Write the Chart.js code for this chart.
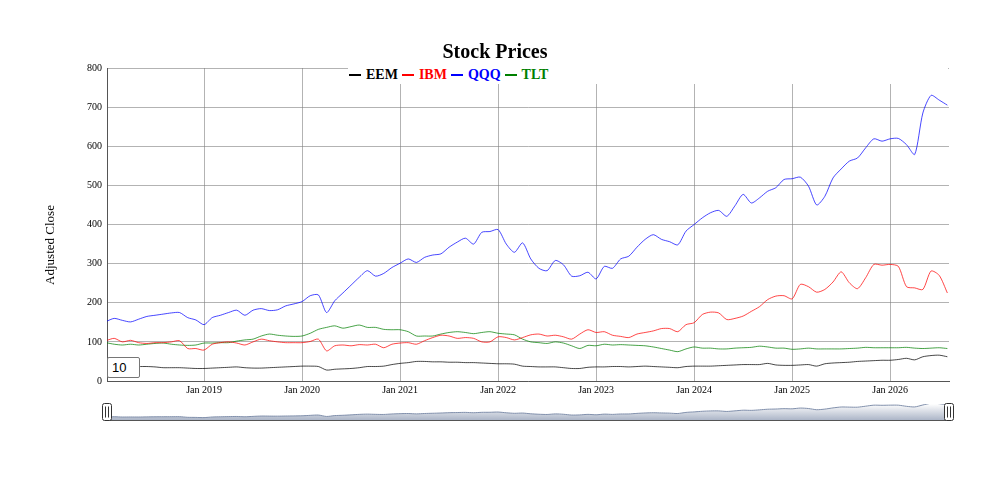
<!DOCTYPE html>
<html>
<head>
<meta charset="utf-8">
<script src="https://cdn.jsdelivr.net/npm/chart.js@4.4.1/dist/chart.umd.min.js"></script>
<style>
  body { margin: 0; background: #fff; }
  #wrap { position: relative; width: 992px; height: 480px; overflow: hidden; }
  canvas { position: absolute; left: 0; }
  #main { top: 0; }
  #range { top: 395px; }
  #title {
    position: absolute; left: 395px; top: 39px; width: 200px; text-align: center;
    font: bold 20px/24px "Liberation Serif", serif; color: #000;
  }
  #legend {
    position: absolute; left: 348px; top: 66px; width: 600px; height: 18px;
    background: #fff; font: bold 14px/18px "Liberation Serif", serif; white-space: nowrap;
  }
  #legend .dash {
    display: inline-block; width: 12px; height: 0; border-bottom: 2px solid;
    margin: 0 5px 3px 1px;
  }
  #legend .name { margin-right: 3px; }
  #ytitle {
    position: absolute; left: -50px; top: 236px; width: 200px; text-align: center;
    font: 13px/18px "Liberation Serif", serif; color: #000; transform: rotate(-90deg);
  }
  #roller {
    position: absolute; left: 107px; top: 357px; width: 27px; height: 19px;
    border: 1px solid #767676; border-radius: 2px; background: #fff;
    font: 13px/19px "Liberation Sans", Arial, sans-serif; padding-left: 4px; color: #000;
  }
</style>
</head>
<body>
<div id="wrap">
  <canvas id="main" width="992" height="400"></canvas>
  <canvas id="range" width="992" height="32"></canvas>
  <div id="title">Stock Prices</div>
  <div id="legend"></div>
  <div id="ytitle">Adjusted Close</div>
  <div id="roller">10</div>
</div>
<script>
// monthly points, Jan 2018 .. Aug 2026 (10-week rolling average as shown)
var firstYear = 2018;
var monthCount = 104;
var xTickYears = [2019, 2020, 2021, 2022, 2023, 2024, 2025, 2026];

var seriesNames = ['EEM', 'IBM', 'QQQ', 'TLT'];
var seriesColors = ['#000000', '#ff0000', '#0000ff', '#008000'];
var lineColors = ['rgba(0,0,0,0.72)', 'rgba(255,0,0,0.72)', 'rgba(0,0,255,0.72)', 'rgba(0,128,0,0.72)'];

var eem = [
  38, 38, 38, 38, 37, 37, 36, 34, 34, 34, 33, 32,
  32, 33, 34, 35, 36, 34, 33, 33, 34, 35, 36, 37,
  38, 38, 37, 28, 30, 31, 32, 34, 37, 37, 38, 42,
  45, 47, 50, 50, 49, 49, 48, 48, 47, 47, 46, 45,
  44, 44, 43, 38, 37, 36, 36, 36, 34, 32, 32, 35,
  36, 36, 37, 37, 36, 37, 38, 37, 36, 35, 34, 37,
  38, 38, 38, 39, 40, 41, 42, 42, 42, 45, 41, 40,
  40, 41, 42, 38, 44, 46, 47, 48, 50, 51, 52, 53,
  53, 55, 58, 54, 62, 65, 66, 62
];
var ibm = [
  103, 109, 100, 104, 98, 96, 98, 98, 100, 103, 83, 83,
  79, 94, 98, 100, 97, 92, 100, 107, 103, 100, 98, 98,
  98, 101, 107, 77, 90, 92, 90, 93, 92, 94, 85, 94,
  97, 98, 94, 103, 111, 117, 115, 109, 111, 109, 100, 100,
  113, 111, 105, 111, 118, 120, 115, 117, 113, 107, 120, 131,
  124, 126, 117, 114, 111, 120, 124, 128, 134, 134, 126, 144,
  149, 170, 176, 174, 157, 160, 166, 178, 190, 208, 217, 218,
  210, 247, 241, 227, 234, 253, 279, 251, 236, 264, 298, 296,
  298, 293, 241, 238, 234, 281, 270, 225
];
var qqq = [
  152, 160, 155, 151, 158, 165, 168, 171, 174, 175, 162, 156,
  144, 162, 168, 175, 181, 168, 181, 185, 180, 182, 192, 197,
  203, 218, 220, 175, 205, 225, 245, 265, 282, 268, 275, 290,
  301, 312, 303, 316, 322, 325, 342, 355, 365, 350, 380, 382,
  387, 350, 329, 353, 312, 288, 282, 308, 297, 268, 269, 278,
  261, 293, 288, 312, 319, 342, 362, 374, 362, 356, 348, 383,
  400, 417, 430, 436, 421, 448, 477, 455, 468, 485, 494, 515,
  517, 521, 498, 450, 472, 519, 542, 562, 570, 596, 619, 613,
  619, 620, 604, 579, 685, 730, 718, 705
];
var tlt = [
  98, 94, 92, 94, 92, 94, 96, 97, 94, 92, 91, 92,
  97, 97, 98, 98, 102, 105, 107, 115, 120, 117, 115, 114,
  115, 122, 132, 137, 141, 135, 139, 143, 137, 137, 132, 131,
  131, 126, 115, 115, 115, 120, 124, 126, 124, 121, 124, 126,
  122, 120, 118, 107, 100, 98, 96, 100, 97, 90, 83, 91,
  90, 94, 92, 93, 92, 91, 90, 87, 83, 79, 75, 82,
  87, 84, 84, 82, 82, 84, 85, 86, 89, 87, 84, 84,
  81, 82, 84, 82, 82, 82, 82, 83, 84, 86, 85, 85,
  85, 85, 86, 84, 83, 84, 85, 83
];

var allSeries = [eem, ibm, qqq, tlt];

// x positions as decimal years
var xYears = [];
for (var i = 0; i < monthCount; i++) {
  xYears.push(firstYear + Math.floor(i / 12) + (i % 12) / 12);
}

function toPoints(arr) {
  return arr.map(function(v, i) { return { x: xYears[i], y: v }; });
}

// legend (dygraphs style)
var legend = document.getElementById('legend');
seriesNames.forEach(function(name, i) {
  legend.innerHTML += '<span class="dash" style="border-color:' + seriesColors[i] + '"></span>' +
    '<span class="name" style="color:' + seriesColors[i] + '">' + name + '</span>';
});

var serifFont = { family: '"Liberation Serif", serif', size: 10 };

var mainChart = new Chart(document.getElementById('main'), {
  type: 'line',
  data: {
    datasets: allSeries.map(function(arr, i) {
      return {
        label: seriesNames[i],
        data: toPoints(arr),
        borderColor: lineColors[i],
        borderWidth: 1,
        pointRadius: 0,
        tension: 0.25,
        fill: false
      };
    })
  },
  options: {
    responsive: false,
    animation: false,
    layout: { padding: { top: 68, left: 0, right: 43, bottom: 0 } },
    plugins: { legend: { display: false }, tooltip: { enabled: false } },
    scales: {
      x: {
        type: 'linear',
        min: 2018.01,
        max: 2026.6,
        afterFit: function(s) { s.height = 19; },
        ticks: {
          stepSize: 1,
          includeBounds: false,
          padding: 3,
          color: '#000',
          font: serifFont,
          maxRotation: 0,
          callback: function(v) {
            var y = Math.round(v);
            return xTickYears.indexOf(y) >= 0 && Math.abs(v - y) < 1e-6 ? 'Jan ' + y : '';
          }
        },
        grid: { color: 'rgba(128,128,128,0.6)', drawTicks: false },
        border: { color: '#555', width: 1 }
      },
      y: {
        min: 0,
        max: 800,
        afterFit: function(s) { s.width = 107; },
        ticks: { stepSize: 100, padding: 5, color: '#000', font: serifFont },
        grid: { color: 'rgba(128,128,128,0.6)', drawTicks: false },
        border: { color: '#555', width: 1 }
      }
    }
  }
});

// range selector: average of all series
var combined = xYears.map(function(x, i) {
  var s = 0;
  allSeries.forEach(function(arr) { s += arr[i]; });
  return { x: x, y: s / allSeries.length };
});

var handlesPlugin = {
  id: 'handles',
  afterDraw: function(chart) {
    var ctx = chart.ctx, a = chart.chartArea;
    ctx.save();
    ctx.strokeStyle = '#555';
    ctx.lineWidth = 1;
    ctx.beginPath();
    ctx.moveTo(a.left, a.bottom - 0.5);
    ctx.lineTo(a.right, a.bottom - 0.5);
    ctx.stroke();
    [a.left, a.right].forEach(function(cx) {
      var x = Math.round(cx) - 4.5, y = 8.5, w = 9, h = 17;
      ctx.fillStyle = '#fff';
      ctx.strokeStyle = '#333';
      ctx.beginPath();
      ctx.moveTo(x + 2, y);
      ctx.lineTo(x + w - 2, y);
      ctx.quadraticCurveTo(x + w, y, x + w, y + 2);
      ctx.lineTo(x + w, y + h - 2);
      ctx.quadraticCurveTo(x + w, y + h, x + w - 2, y + h);
      ctx.lineTo(x + 2, y + h);
      ctx.quadraticCurveTo(x, y + h, x, y + h - 2);
      ctx.lineTo(x, y + 2);
      ctx.quadraticCurveTo(x, y, x + 2, y);
      ctx.fill();
      ctx.stroke();
      ctx.beginPath();
      ctx.moveTo(x + 3, y + 3); ctx.lineTo(x + 3, y + h - 3);
      ctx.moveTo(x + 6, y + 3); ctx.lineTo(x + 6, y + h - 3);
      ctx.stroke();
    });
    ctx.restore();
  }
};

var rangeChart = new Chart(document.getElementById('range'), {
  type: 'line',
  data: {
    datasets: [{
      data: combined,
      borderColor: '#808FAB',
      borderWidth: 1,
      pointRadius: 0,
      tension: 0.25,
      fill: 'start',
      backgroundColor: function(c) {
        var a = c.chart.chartArea;
        if (!a) return '#A7B1C4';
        var g = c.chart.ctx.createLinearGradient(0, a.top, 0, a.bottom);
        g.addColorStop(0, '#ffffff');
        g.addColorStop(1, '#A7B1C4');
        return g;
      }
    }]
  },
  options: {
    responsive: false,
    animation: false,
    layout: { padding: { top: 9, left: 107, right: 43, bottom: 6 } },
    plugins: { legend: { display: false }, tooltip: { enabled: false } },
    scales: {
      x: { type: 'linear', min: 2018.01, max: 2026.6, display: false },
      y: { min: 40, max: 280, display: false }
    }
  },
  plugins: [handlesPlugin]
});
</script>
</body>
</html>
